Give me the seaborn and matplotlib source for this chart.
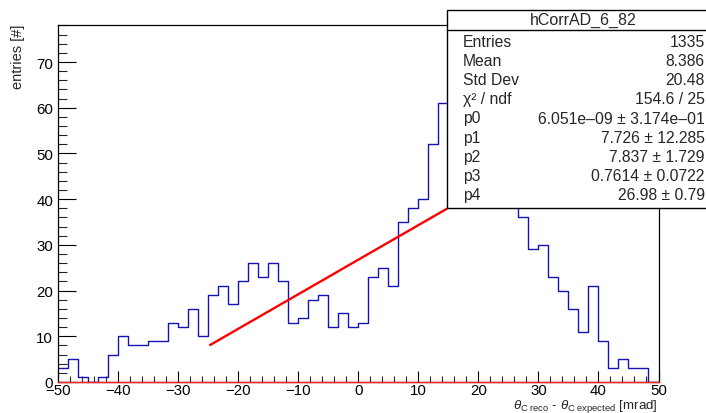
import numpy as np
import pandas as pd
import matplotlib
matplotlib.use("Agg")
import matplotlib.pyplot as plt
import seaborn as sns
from matplotlib.patches import Rectangle
from matplotlib.lines import Line2D
from matplotlib.ticker import MultipleLocator

# ---------------- data ----------------
x_min, x_max, n_bins = -50.0, 50.0, 60
counts = [3, 5, 1, 0, 1, 6, 10, 8, 8, 9,
          9, 13, 12, 16, 10, 19, 21, 17, 22, 26,
          23, 26, 22, 13, 14, 18, 19, 12, 15, 12,
          13, 23, 25, 21, 35, 38, 40, 52, 61, 65,
          68, 64, 62, 60, 57, 52, 36, 29, 30, 23,
          20, 16, 11, 21, 9, 3, 5, 3, 3, 0]
fit_x = [-24.7, 15.0]
fit_y = [8.1, 38.1]
zero_x = [-50.0, 50.0]
zero_y = [0.0, 0.0]
x_ticks = [-50, -40, -30, -20, -10, 0, 10, 20, 30, 40, 50]
y_ticks = [0, 10, 20, 30, 40, 50, 60, 70]

stats_title = "hCorrAD_6_82"
stats_names = ["Entries", "Mean", "Std Dev", "\u03c7\u00b2 / ndf", "p0", "p1", "p2", "p3", "p4"]
stats_values = ["1335", "8.386", "20.48", "154.6 / 25",
                "6.051e\u201309 \u00b1 3.174e\u201301", "7.726 \u00b1 12.285",
                "7.837 \u00b1 1.729", "0.7614 \u00b1 0.0722", "26.98 \u00b1 0.79"]

# ---------------- style ----------------
sns.set_style("ticks")
plt.rcParams["font.family"] = ["Liberation Sans", "DejaVu Sans"]
plt.rcParams["mathtext.fontset"] = "custom"
plt.rcParams["mathtext.rm"] = "Liberation Sans"
plt.rcParams["mathtext.it"] = "Liberation Sans:italic"
plt.rcParams["axes.unicode_minus"] = True

W, H = 706, 414
fig = plt.figure(figsize=(W / 100, H / 100), dpi=100)
L, R, T, B = 58.3, 658.5, 26.0, 383.0
ax = fig.add_axes([L / W, 1 - B / H, (R - L) / W, (B - T) / H])

edges = np.linspace(x_min, x_max, n_bins + 1)
centers = 0.5 * (edges[:-1] + edges[1:])
df = pd.DataFrame({"x": centers, "w": counts})

sns.histplot(data=df, x="x", weights="w", bins=n_bins, binrange=(x_min, x_max),
             element="step", fill=False, color="#1414b4", linewidth=1.0, ax=ax)
sns.lineplot(x=fit_x, y=fit_y, color="#ff0000", linewidth=1.7, ax=ax)
sns.lineplot(x=zero_x, y=zero_y, color="#ff2020", linewidth=1.0, ax=ax)
for ln in ax.lines[-1:]:
    ln.set_clip_on(False)
    ln.set_zorder(5)

ax.set_xlim(x_min, x_max)
ax.set_ylim(0, 78.1)
ax.set_xticks(x_ticks)
ax.set_yticks(y_ticks)
ax.xaxis.set_minor_locator(MultipleLocator(2))
ax.yaxis.set_minor_locator(MultipleLocator(2))
ax.tick_params(axis="x", which="major", direction="in", length=7.7, width=0.8,
               labelsize=10.8, pad=1.0, colors="black")
ax.tick_params(axis="x", which="minor", direction="in", length=4, width=0.8)
ax.tick_params(axis="y", which="major", direction="in", length=13, width=0.8,
               labelsize=10.8, pad=3.8, colors="black")
ax.tick_params(axis="y", which="minor", direction="in", length=6.5, width=0.8)
for s in ax.spines.values():
    s.set_visible(True)
    s.set_color("black")
    s.set_linewidth(0.9)
ax.set_xlabel("")
ax.set_ylabel("")

def fx(x):
    return x / W

def fy(y):
    return 1 - y / H

fig.text(fx(18), fy(25), "entries [#]", rotation=90, ha="center", va="top", fontsize=10.5)
fig.text(fx(658), fy(408.7),
         r"$\theta_{\mathrm{C\ reco}}$ - $\theta_{\mathrm{C\ expected}}$ [mrad]",
         ha="right", va="baseline", fontsize=9.6)

# stats box
box = Rectangle((fx(447.5), fy(209)), fx(720) - fx(447.5), fy(11) - fy(209),
                transform=fig.transFigure, facecolor="white", edgecolor="black",
                linewidth=1.0, zorder=20, clip_on=False)
ax.add_artist(box)
sep = Line2D([fx(447.5), fx(720)], [fy(30.5), fy(30.5)], transform=fig.transFigure,
             color="black", linewidth=1.0, zorder=21, clip_on=False)
ax.add_artist(sep)
ax.text(fx(583.5), fy(25.3), stats_title, transform=fig.transFigure, ha="center",
        va="baseline", fontsize=11.5, zorder=22)
for k, (n, v) in enumerate(zip(stats_names, stats_values)):
    yb = 46.7 + 19.2 * k
    ax.text(fx(462.7), fy(yb), n, transform=fig.transFigure, ha="left",
            va="baseline", fontsize=11.3, zorder=22)
    ax.text(fx(704.8), fy(yb), v, transform=fig.transFigure, ha="right",
            va="baseline", fontsize=11.3, zorder=22)

fig.savefig("out.png", dpi=100)
